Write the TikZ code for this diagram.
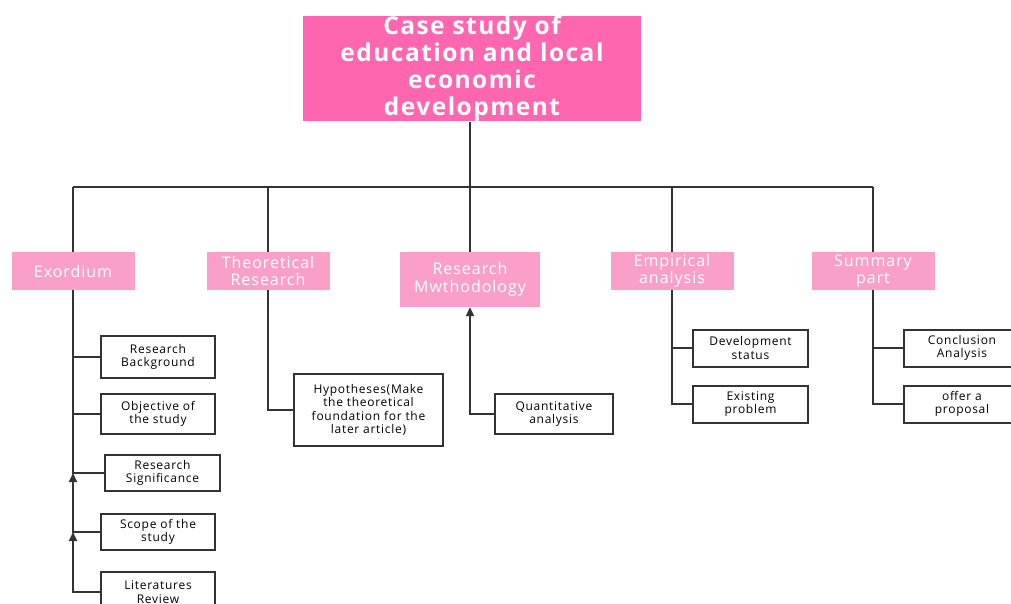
\documentclass[tikz,border=0pt]{standalone}
\usepackage{fontspec}
\setmainfont{Open Sans}
\newfontfamily\spacedfont[LetterSpace=6]{Open Sans}
\usetikzlibrary{arrows.meta}
\definecolor{titlepink}{RGB}{255,102,176}
\definecolor{headpink}{RGB}{250,160,200}
\definecolor{linegray}{RGB}{51,51,51}

\begin{document}
\begin{tikzpicture}[x=1pt, y=-1pt, >={Triangle[length=9pt,width=8pt]},
    title/.style={fill=titlepink, text=white, align=center, inner sep=0pt,
        minimum width=338pt, minimum height=105pt,
        font=\fontsize{24.5}{27}\selectfont\bfseries\spacedfont},
    head/.style={fill=headpink, text=white, align=center, inner sep=0pt,
        minimum width=123pt, minimum height=38pt,
        font=\fontsize{16}{17.5}\selectfont\spacedfont},
    leaf/.style={draw=linegray, line width=2pt, align=center, inner sep=0pt,
        minimum width=114pt, minimum height=38pt,
        font=\fontsize{12}{13.5}\selectfont\spacedfont},
    link/.style={draw=linegray, line width=2pt}]

    \useasboundingbox (0,0) rectangle (1011,604);

    \node[title] (top) at (472,68.5) {Case study of\\education and local\\economic\\development};

    \node[head] (exo) at (73,271) {Exordium};
    \node[head] (theo) at (268,271) {Theoretical\\Research};
    \node[head, minimum width=140pt, minimum height=55pt] (meth) at (470,279.5) {Research\\Mwthodology};
    \node[head] (emp) at (672,271) {Empirical\\analysis};
    \node[head] (summ) at (873,271) {Summary\\part};

    \node[leaf, minimum height=42pt] (bg) at (158,357) {Research\\Background};
    \node[leaf, minimum height=40pt] (obj) at (158,414) {Objective of\\the study};
    \node[leaf, minimum width=115pt, minimum height=36pt] (sig) at (162.5,473) {Research\\Significance};
    \node[leaf, minimum height=36pt] (scope) at (158,532) {Scope of the\\study};
    \node[leaf, minimum height=40pt] (lit) at (158,592) {Literatures\\Review};
    \node[leaf, minimum width=149pt, minimum height=72pt] (hyp) at (368.5,410) {Hypotheses(Make\\the theoretical\\foundation for the\\later article)};
    \node[leaf, minimum width=118pt, minimum height=40pt] (quant) at (554,414) {Quantitative\\analysis};
    \node[leaf, minimum width=115pt, minimum height=37pt] (dev) at (750.5,348) {Development\\status};
    \node[leaf, minimum width=115pt, minimum height=37pt] (exist) at (750.5,404) {Existing\\problem};
    \node[leaf, minimum width=116pt, minimum height=37pt] (concl) at (962,348) {Conclusion\\Analysis};
    \node[leaf, minimum width=116pt, minimum height=37pt] (prop) at (962,404) {offer a\\proposal};

    % bus
    \coordinate (hub) at (470,187);
    \coordinate (busL) at (73,187);
    \coordinate (busR) at (873,187);
    \draw[link] (hub |- top.south) -- (hub);
    \draw[link] (busL) -- (busR);
    \draw[link] (busL) -- (exo.north -| busL);
    \draw[link] (theo.north |- hub) -- (theo);
    \draw[link] (hub) -- (meth);
    \draw[link] (emp.north |- hub) -- (emp);
    \draw[link] (busR) -- (busR |- summ.north);

    % branches
    \draw[link] (exo) |- (bg);
    \draw[link] (exo) |- (obj);
    \draw[link] (exo) |- (sig);
    \draw[link, ->] (scope) -| (exo.south |- sig.west);
    \draw[link, ->] (lit) -| (exo.south |- scope.west);
    \draw[link] (theo) |- (hyp);
    \draw[link, ->] (quant) -| (meth);
    \draw[link] (emp) |- (dev);
    \draw[link] (emp) |- (exist);
    \draw[link] (summ) |- (concl);
    \draw[link] (summ) |- (prop);

\end{tikzpicture}
\end{document}
